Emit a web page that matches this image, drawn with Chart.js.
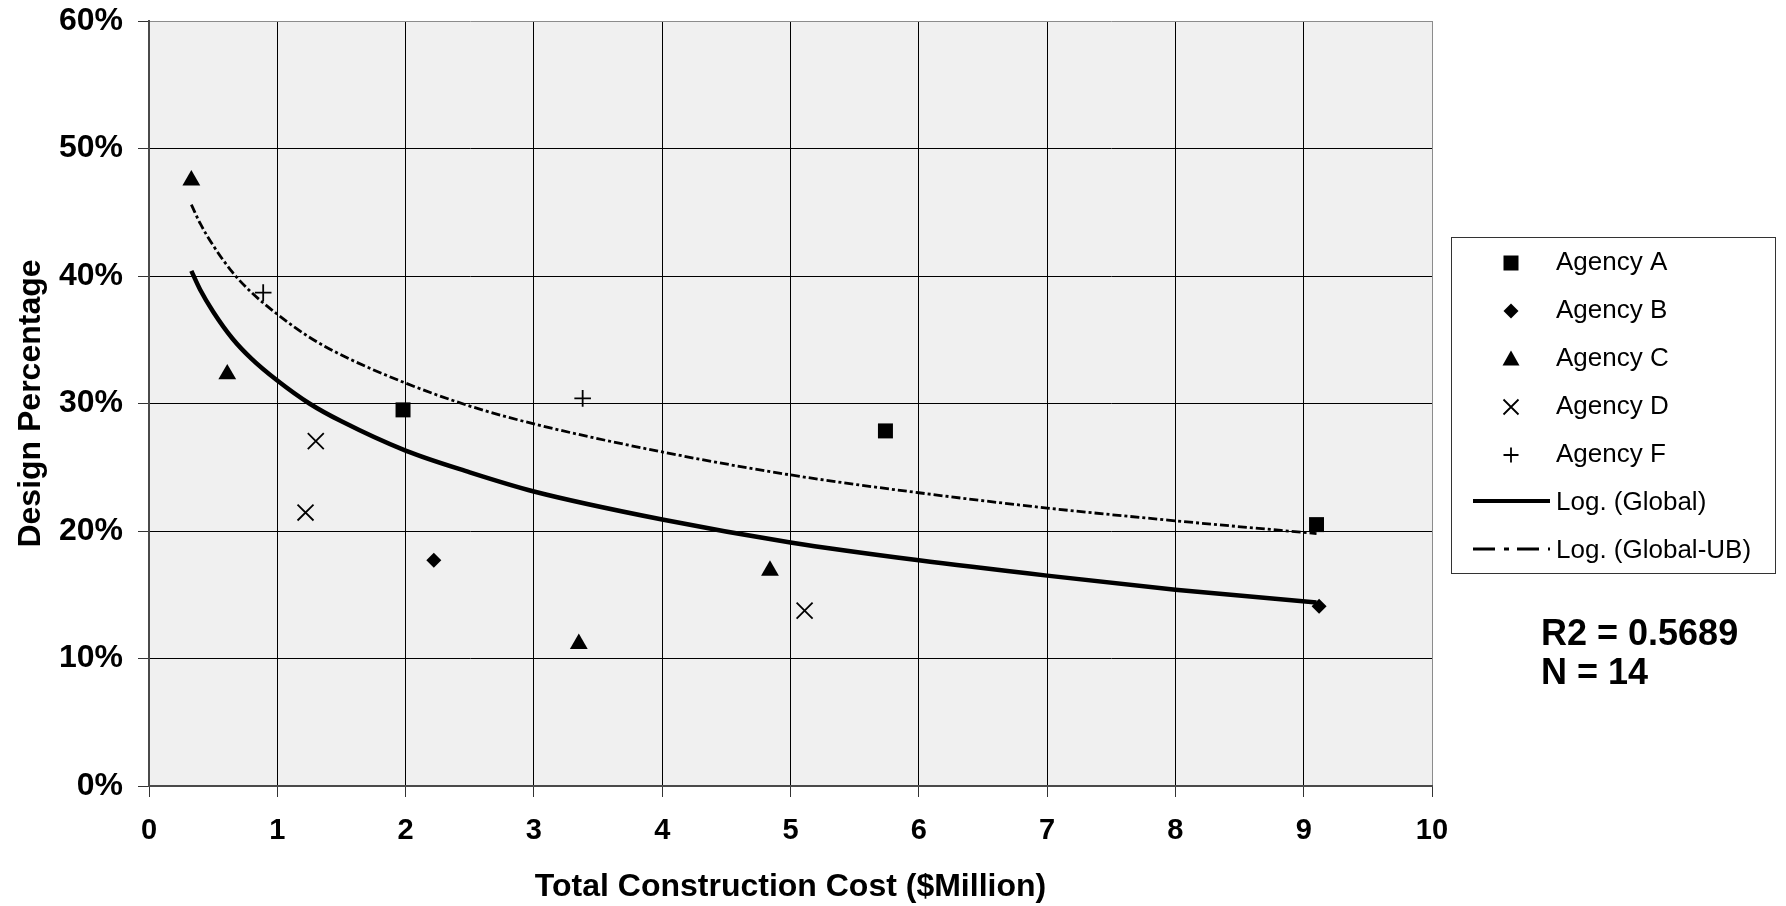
<!DOCTYPE html>
<html>
<head>
<meta charset="utf-8">
<title>Design Percentage vs Total Construction Cost</title>
<script src="https://cdn.jsdelivr.net/npm/chart.js@4.4.1/dist/chart.umd.min.js"></script>
<style>
  html, body { margin: 0; padding: 0; background: #fff; }
  #wrap { width: 1786px; height: 906px; }
</style>
</head>
<body>
<div id="wrap"><canvas id="costChart" width="1786" height="906"></canvas></div>
<script>
const xTickValues = [0, 1, 2, 3, 4, 5, 6, 7, 8, 9, 10];
const yTickValues = [0, 10, 20, 30, 40, 50, 60];

// cost in $M, design share in %
const agencyAX = [1.98, 5.74, 9.10];
const agencyAY = [29.5, 27.85, 20.5];
const agencyBX = [2.22, 9.12];
const agencyBY = [17.7, 14.1];
const agencyCX = [0.33, 0.61, 3.35, 4.84];
const agencyCY = [47.5, 32.3, 11.15, 16.9];
const agencyDX = [1.30, 1.22, 5.11];
const agencyDY = [27.05, 21.45, 13.75];
const agencyFX = [0.89, 3.38];
const agencyFY = [38.7, 30.4];

// trend curves
const trendX = [0.33, 0.4, 0.5, 0.65, 0.8, 1, 1.25, 1.5, 2, 2.5, 3, 4, 5, 6, 7, 8, 9.1];
const globalY = [40.4, 38.9, 37.2, 35.1, 33.5, 31.8, 30.0, 28.6, 26.3, 24.6, 23.1, 20.9, 19.1, 17.7, 16.5, 15.4, 14.4];
const globalUbY = [45.6, 44.1, 42.4, 40.3, 38.7, 37.0, 35.2, 33.8, 31.6, 29.8, 28.4, 26.2, 24.4, 23.0, 21.8, 20.8, 19.8];

const statLines = ['R2 = 0.5689', 'N = 14'];

const FONT = '"Liberation Sans", Arial, Helvetica, sans-serif';
Chart.defaults.font.family = FONT;
Chart.defaults.color = '#000';

const toPoints = (xs, ys) => xs.map((x, i) => ({ x: x, y: ys[i] }));

function pointSet(label, xs, ys, style, radius, lineWidth) {
  return {
    label: label,
    data: toPoints(xs, ys),
    pointStyle: style,
    pointRadius: radius,
    pointBorderWidth: lineWidth,
    pointBackgroundColor: '#000',
    pointBorderColor: '#000',
    showLine: false
  };
}

function drawMarker(ctx, style, x, y, size) {
  const h = size / 2;
  ctx.beginPath();
  if (style === 'rect') {
    ctx.rect(x - h, y - h, size, size);
    ctx.fill();
  } else if (style === 'rectRot') {
    ctx.moveTo(x, y - h); ctx.lineTo(x + h, y); ctx.lineTo(x, y + h); ctx.lineTo(x - h, y);
    ctx.closePath(); ctx.fill();
  } else if (style === 'triangle') {
    ctx.moveTo(x, y - h); ctx.lineTo(x + h, y + h * 0.75); ctx.lineTo(x - h, y + h * 0.75);
    ctx.closePath(); ctx.fill();
  } else if (style === 'crossRot') {
    ctx.moveTo(x - h, y - h); ctx.lineTo(x + h, y + h);
    ctx.moveTo(x + h, y - h); ctx.lineTo(x - h, y + h);
    ctx.stroke();
  } else if (style === 'cross') {
    ctx.moveTo(x - h, y); ctx.lineTo(x + h, y);
    ctx.moveTo(x, y - h); ctx.lineTo(x, y + h);
    ctx.stroke();
  }
}

const plotBackground = {
  id: 'plotBackground',
  beforeDraw(chart) {
    const { ctx, chartArea: a } = chart;
    ctx.save();
    ctx.fillStyle = '#f0f0f0';
    ctx.fillRect(a.left, a.top, a.right - a.left, a.bottom - a.top);
    ctx.restore();
  }
};

const boxLegend = {
  id: 'boxLegend',
  afterDraw(chart) {
    const ctx = chart.ctx;
    ctx.save();
    ctx.fillStyle = '#fff';
    ctx.fillRect(1451, 237, 324, 336);
    ctx.strokeStyle = '#333';
    ctx.lineWidth = 1;
    ctx.strokeRect(1451.5, 237.5, 324, 336);

    chart.data.datasets.forEach((ds, i) => {
      const cy = 263 + i * 48;
      ctx.fillStyle = '#000';
      ctx.strokeStyle = '#000';
      if (ds.showLine) {
        const dashed = ds.borderDash && ds.borderDash.length;
        ctx.lineWidth = dashed ? 3 : 4;
        ctx.setLineDash(dashed ? [22, 9, 5, 8] : []);
        ctx.beginPath();
        ctx.moveTo(1473, cy - 2);
        ctx.lineTo(1550, cy - 2);
        ctx.stroke();
        ctx.setLineDash([]);
      } else {
        ctx.lineWidth = 1.8;
        drawMarker(ctx, ds.pointStyle, 1511, cy, ds.pointStyle === 'triangle' ? 17 : 15);
      }
      ctx.font = '26px ' + FONT;
      ctx.textBaseline = 'middle';
      ctx.textAlign = 'left';
      ctx.fillText(ds.label, 1556, cy);
    });

    ctx.font = 'bold 36px ' + FONT;
    ctx.textBaseline = 'alphabetic';
    ctx.fillText(statLines[0], 1541, 645);
    ctx.fillText(statLines[1], 1541, 684);
    ctx.restore();
  }
};

const ctx = document.getElementById('costChart').getContext('2d');

new Chart(ctx, {
  type: 'scatter',
  data: {
    datasets: [
      pointSet('Agency A', agencyAX, agencyAY, 'rect', 10.6, 0),
      pointSet('Agency B', agencyBX, agencyBY, 'rectRot', 7.5, 0),
      pointSet('Agency C', agencyCX, agencyCY, 'triangle', 10.3, 0),
      pointSet('Agency D', agencyDX, agencyDY, 'crossRot', 11.3, 1.8),
      pointSet('Agency F', agencyFX, agencyFY, 'cross', 8.3, 1.8),
      {
        label: 'Log. (Global)',
        data: toPoints(trendX, globalY),
        showLine: true,
        borderColor: '#000',
        borderWidth: 4.5,
        pointRadius: 0,
        cubicInterpolationMode: 'monotone'
      },
      {
        label: 'Log. (Global-UB)',
        data: toPoints(trendX, globalUbY),
        showLine: true,
        borderColor: '#000',
        borderWidth: 2.8,
        borderDash: [9, 3, 3, 3],
        pointRadius: 0,
        cubicInterpolationMode: 'monotone'
      }
    ]
  },
  options: {
    responsive: false,
    animation: false,
    events: [],
    layout: { padding: { top: 21, right: 354, bottom: 0, left: 0 } },
    plugins: {
      legend: { display: false },
      tooltip: { enabled: false }
    },
    scales: {
      x: {
        type: 'linear',
        min: 0,
        max: 10,
        afterBuildTicks: s => { s.ticks = xTickValues.map(v => ({ value: v })); },
        afterFit: s => { s.height = 120; },
        grid: {
          color: c => (c.tick && c.tick.value === 10 ? '#8c8c8c' : '#000'),
          lineWidth: 1,
          tickLength: 11,
          tickColor: '#333'
        },
        border: { color: '#4a4a4a', width: 2 },
        ticks: {
          font: { size: 29, weight: 'bold' },
          color: '#000',
          padding: 17,
          callback: v => String(v)
        },
        title: {
          display: true,
          text: 'Total Construction Cost ($Million)',
          font: { size: 32, weight: 'bold' },
          color: '#000',
          padding: { top: 5, bottom: 0 }
        }
      },
      y: {
        type: 'linear',
        min: 0,
        max: 60,
        afterBuildTicks: s => { s.ticks = yTickValues.map(v => ({ value: v })); },
        afterFit: s => {
          s.width = 149;
          s.paddingTop = 0;
          s.paddingBottom = 0;
        },
        grid: {
          color: c => (c.tick && c.tick.value === 60 ? '#8c8c8c' : '#000'),
          lineWidth: 1,
          tickLength: 11,
          tickColor: '#333'
        },
        border: { color: '#4a4a4a', width: 2 },
        ticks: {
          font: { size: 32, weight: 'bold' },
          color: '#000',
          padding: 15,
          callback: v => v + '%'
        },
        title: {
          display: true,
          text: 'Design Percentage',
          font: { size: 32, weight: 'bold' },
          color: '#000',
          padding: { top: 12, bottom: 0 }
        }
      }
    }
  },
  plugins: [plotBackground, boxLegend]
});
</script>
</body>
</html>
